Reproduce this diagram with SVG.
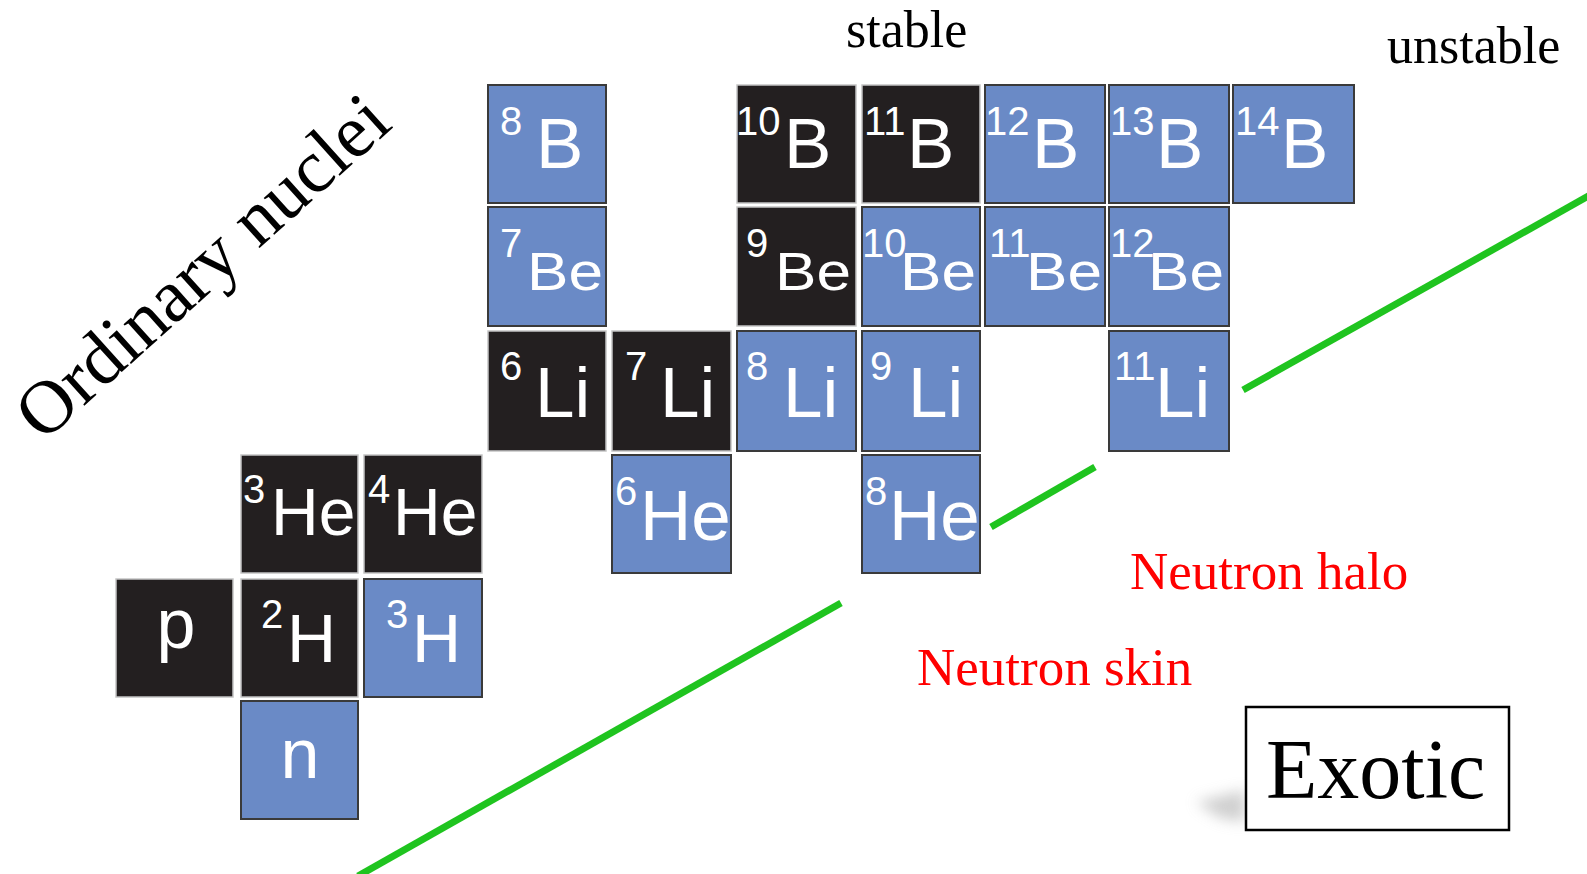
<svg xmlns="http://www.w3.org/2000/svg" width="1587" height="874" viewBox="0 0 1587 874">
<style>
.bk{fill:#231f20;stroke:#c4c4c4;stroke-width:1.5}
.bl{fill:#6a8ac6;stroke:#3a3a3a;stroke-width:2}
.s{font-family:"Liberation Sans",Arial,sans-serif;font-size:40px;fill:#fff}
.m{font-family:"Liberation Sans",Arial,sans-serif;font-size:71px;fill:#fff}
.be{font-family:"Liberation Sans",Arial,sans-serif;font-size:54px;fill:#fff}
.he{font-size:66px}
.h{font-size:68px}
.c{text-anchor:middle;font-size:70px}
.lbl{font-family:"Liberation Serif","Times New Roman",serif;fill:#000}
.red{font-family:"Liberation Serif","Times New Roman",serif;font-size:53px;fill:#ff0000}
.g{stroke:#1fc41f;stroke-width:7;fill:none}
</style>
<defs>
<filter id="blur" x="-50%" y="-50%" width="200%" height="200%"><feGaussianBlur stdDeviation="7"/></filter>
</defs>

<g id="connectors">
<line class="g" x1="358" y1="876" x2="841" y2="603"/>
<line class="g" x1="991" y1="527" x2="1095" y2="467"/>
<line class="g" x1="1243" y1="390" x2="1592" y2="194"/>
</g>

<!-- B row -->
<g id="B8"><rect class="bl" x="488" y="85" width="118" height="118"/><text class="s" x="500" y="135">8</text><text class="m" x="536" y="168">B</text></g>
<g id="B10"><rect class="bk" x="737" y="85" width="119" height="118"/><text class="s" x="736" y="135">10</text><text class="m" x="784" y="168">B</text></g>
<g id="B11"><rect class="bk" x="862" y="85" width="118" height="118"/><text class="s" x="864" y="135">11</text><text class="m" x="907" y="168">B</text></g>
<g id="B12"><rect class="bl" x="985" y="85" width="120" height="118"/><text class="s" x="985" y="135">12</text><text class="m" x="1032" y="168">B</text></g>
<g id="B13"><rect class="bl" x="1109" y="85" width="120" height="118"/><text class="s" x="1110" y="135">13</text><text class="m" x="1156" y="168">B</text></g>
<g id="B14"><rect class="bl" x="1233" y="85" width="121" height="118"/><text class="s" x="1235" y="135">14</text><text class="m" x="1281" y="168">B</text></g>

<!-- Be row -->
<g id="Be7"><rect class="bl" x="488" y="207" width="118" height="119"/><text class="s" x="500" y="257">7</text><text class="be" x="527" y="290" textLength="76" lengthAdjust="spacingAndGlyphs">Be</text></g>
<g id="Be9"><rect class="bk" x="737" y="207" width="119" height="119"/><text class="s" x="746" y="257">9</text><text class="be" x="775" y="290" textLength="76" lengthAdjust="spacingAndGlyphs">Be</text></g>
<g id="Be10"><rect class="bl" x="862" y="207" width="118" height="119"/><text class="s" x="862" y="257">10</text><text class="be" x="900" y="290" textLength="76" lengthAdjust="spacingAndGlyphs">Be</text></g>
<g id="Be11"><rect class="bl" x="985" y="207" width="120" height="119"/><text class="s" x="989" y="257">11</text><text class="be" x="1026" y="290" textLength="76" lengthAdjust="spacingAndGlyphs">Be</text></g>
<g id="Be12"><rect class="bl" x="1109" y="207" width="120" height="119"/><text class="s" x="1110" y="257">12</text><text class="be" x="1148" y="290" textLength="76" lengthAdjust="spacingAndGlyphs">Be</text></g>

<!-- Li row -->
<g id="Li6"><rect class="bk" x="488" y="331" width="118" height="120"/><text class="s" x="500" y="380">6</text><text class="m" x="535" y="417">Li</text></g>
<g id="Li7"><rect class="bk" x="612" y="331" width="119" height="120"/><text class="s" x="625" y="380">7</text><text class="m" x="660" y="417">Li</text></g>
<g id="Li8"><rect class="bl" x="737" y="331" width="119" height="120"/><text class="s" x="746" y="380">8</text><text class="m" x="783" y="417">Li</text></g>
<g id="Li9"><rect class="bl" x="862" y="331" width="118" height="120"/><text class="s" x="870" y="380">9</text><text class="m" x="908" y="417">Li</text></g>
<g id="Li11"><rect class="bl" x="1109" y="331" width="120" height="120"/><text class="s" x="1114" y="380">11</text><text class="m" x="1155" y="417">Li</text></g>

<!-- He row -->
<g id="He3"><rect class="bk" x="241" y="455" width="117" height="118"/><text class="s" x="243" y="503">3</text><text class="m he" x="271" y="535">He</text></g>
<g id="He4"><rect class="bk" x="364" y="455" width="118" height="118"/><text class="s" x="368" y="503">4</text><text class="m he" x="393" y="535">He</text></g>
<g id="He6"><rect class="bl" x="612" y="455" width="119" height="118"/><text class="s" x="615" y="505">6</text><text class="m" x="640" y="540">He</text></g>
<g id="He8"><rect class="bl" x="862" y="455" width="118" height="118"/><text class="s" x="865" y="505">8</text><text class="m" x="889" y="540">He</text></g>

<!-- H row -->
<g id="p"><rect class="bk" x="116" y="579" width="117" height="118"/><text class="m c" x="176" y="648">p</text></g>
<g id="H2"><rect class="bk" x="241" y="579" width="117" height="118"/><text class="s" x="261" y="628">2</text><text class="m h" x="287" y="662">H</text></g>
<g id="H3"><rect class="bl" x="364" y="579" width="118" height="118"/><text class="s" x="386" y="628">3</text><text class="m h" x="412" y="662">H</text></g>

<!-- n -->
<g id="n"><rect class="bl" x="241" y="701" width="117" height="118"/><text class="m c" x="300" y="778">n</text></g>

<!-- labels -->
<g id="ordinary"><text class="lbl" x="43" y="443" font-size="75" transform="rotate(-42 43 443)">Ordinary nuclei</text></g>
<g id="stable"><text class="lbl" x="846" y="47" font-size="52">stable</text></g>
<g id="unstable"><text class="lbl" x="1387" y="63" font-size="52">unstable</text></g>
<g id="halo"><text class="red" x="1130" y="589">Neutron halo</text></g>
<g id="skin"><text class="red" x="917" y="685">Neutron skin</text></g>

<g id="exotic">
<polygon points="1196,802 1245,790 1245,822 1220,818" fill="#b0b0b0" filter="url(#blur)" opacity="0.6"/>
<rect x="1246" y="707" width="263" height="123" fill="#fff" stroke="#000" stroke-width="2.5"/>
<text class="lbl" x="1266" y="798" font-size="84">Exotic</text>
</g>
</svg>
